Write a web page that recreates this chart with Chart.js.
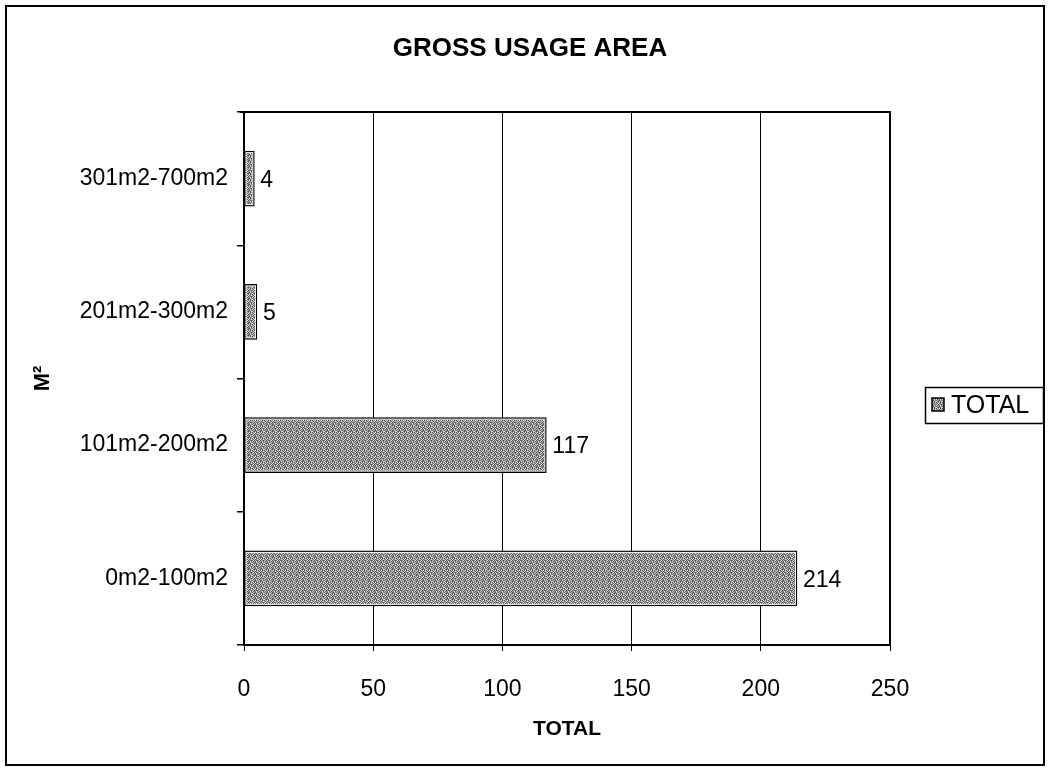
<!DOCTYPE html>
<html>
<head>
<meta charset="utf-8">
<script src="https://cdn.jsdelivr.net/npm/chart.js@4/dist/chart.umd.min.js"></script>
<style>
  html, body { margin: 0; padding: 0; background: #fff; }
  #wrap { width: 1050px; height: 772px; }
</style>
</head>
<body>
<div id="wrap"><canvas id="area_chart" width="1050" height="772"></canvas></div>
<script>
var ranges = ['0m2-100m2', '101m2-200m2', '201m2-300m2', '301m2-700m2'];
var totals = [214, 117, 5, 4];
var xTicks = [0, 50, 100, 150, 200, 250];
var seriesName = 'TOTAL';
var chartTitle = 'GROSS USAGE AREA';

var FONT = "'Liberation Sans', Arial, sans-serif";

// dithered grey fill for the bars
function makePattern() {
   var shades = [
      '#4c4c4c', '#cfcfcf', '#7a7a7a', '#f4f4f4', '#444444', '#a8a8a8',
      '#9c9c9c', '#626262', '#dcdcdc', '#585858', '#929292', '#e6e6e6',
      '#7c7c7c', '#f0f0f0', '#484848', '#b4b4b4', '#6c6c6c', '#5a5a5a',
      '#d4d4d4', '#505050', '#9a9a9a', '#747474', '#ececec', '#646464',
      '#686868', '#bcbcbc', '#808080', '#4a4a4a', '#c4c4c4', '#8a8a8a',
      '#e2e2e2', '#727272', '#4e4e4e', '#a4a4a4', '#5e5e5e', '#d0d0d0'
   ];
   var c = document.createElement('canvas');
   c.width = 6; c.height = 6;
   var g = c.getContext('2d');
   for (var i = 0; i < 36; i++) {
      g.fillStyle = shades[i];
      g.fillRect(i % 6, Math.floor(i / 6), 1, 1);
   }
   return g.createPattern(c, 'repeat');
}

var ctx = area_chart.getContext('2d');
var barFill = makePattern();

var frame = {
   id: 'frame',
   afterDraw: function(chart) {
      var c = chart.ctx, a = chart.chartArea;
      c.save();
      c.strokeStyle = '#000';
      c.lineWidth = 2;
      c.strokeRect(6, 6, 1038, 759);
      c.beginPath();
      c.moveTo(a.left - 4, a.top);
      c.lineTo(a.right, a.top);
      c.lineTo(a.right, a.bottom);
      c.stroke();

      // title, centred on the whole frame
      c.fillStyle = '#000';
      c.font = 'bold 26px ' + FONT;
      c.textAlign = 'center';
      c.textBaseline = 'middle';
      c.fillText(chartTitle, 530, 49);

      // legend box
      c.textAlign = 'left';
      c.lineWidth = 1.5;
      c.strokeRect(925.5, 387.5, 118, 36);
      c.fillStyle = barFill;
      c.fillRect(932, 398, 12, 13);
      c.strokeRect(932, 398, 12, 13);
      c.fillStyle = '#000';
      c.font = '25px ' + FONT;
      c.fillText(seriesName, 951, 406);
      c.restore();
   }
};

var valueLabels = {
   id: 'valueLabels',
   afterDatasetsDraw: function(chart) {
      var c = chart.ctx;
      var meta = chart.getDatasetMeta(0);
      c.save();
      meta.data.forEach(function(bar, i) {
         // thin white line just inside the black outline
         var top = bar.y - bar.height / 2, left = bar.base;
         c.strokeStyle = '#fff';
         c.lineWidth = 1;
         c.strokeRect(left + 1.5, top + 1.5, bar.x - left - 3, bar.height - 3);
         c.fillStyle = '#000';
         c.font = '23px ' + FONT;
         c.textBaseline = 'middle';
         c.fillText(String(totals[i]), bar.x + 6, bar.y + 2);
      });
      c.restore();
   }
};

var config = {
   type: 'bar',
   data: {
      labels: ranges,
      datasets: [{
         label: seriesName,
         data: totals,
         backgroundColor: barFill,
         borderColor: '#000',
         borderWidth: 2,
         borderSkipped: false,
         barThickness: 55
      }]
   },
   options: {
      indexAxis: 'y',
      responsive: false,
      animation: false,
      layout: { padding: { left: 30, right: 160, top: 112, bottom: 0 } },
      plugins: {
         legend: { display: false },
         tooltip: { enabled: false },
         title: { display: false }
      },
      scales: {
         x: {
            min: 0,
            max: 250,
            afterBuildTicks: function(scale) {
               scale.ticks = xTicks.map(function(v) { return { value: v }; });
            },
            afterFit: function(scale) { scale.height = 127; },
            grid: { color: '#000', lineWidth: 1, tickLength: 6, tickColor: '#000' },
            border: { color: '#000', width: 2 },
            ticks: {
               color: '#000',
               font: { family: FONT, size: 23 },
               padding: 25
            },
            title: {
               display: true,
               text: 'TOTAL',
               color: '#000',
               font: { family: FONT, size: 21, weight: 'bold' },
               padding: { top: 0, bottom: 30 }
            }
         },
         y: {
            reverse: true,
            afterFit: function(scale) { scale.width = 214; },
            grid: { drawOnChartArea: false, tickLength: 7, tickColor: '#000', lineWidth: 1.5 },
            border: { color: '#000', width: 2 },
            ticks: {
               color: '#000',
               font: { family: FONT, size: 23 },
               padding: 9
            },
            title: {
               display: true,
               text: 'M²',
               color: '#000',
               font: { family: FONT, size: 22, weight: 'bold' },
               padding: 0
            }
         }
      }
   },
   plugins: [valueLabels, frame]
};

var chart = new Chart(ctx, config);
</script>
</body>
</html>
